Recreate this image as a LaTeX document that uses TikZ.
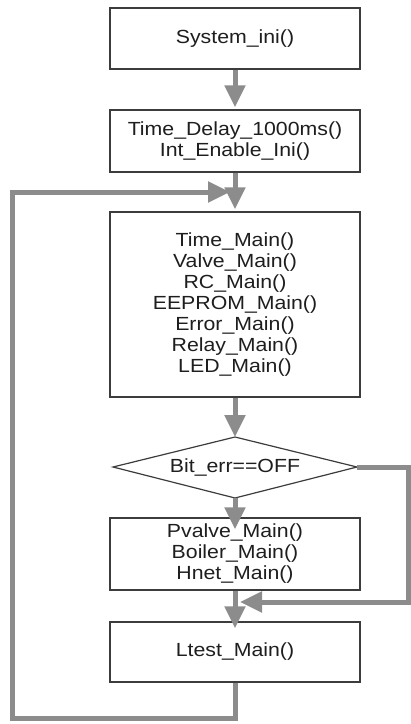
\documentclass[tikz,border=0pt]{standalone}
\usepackage{fontspec}
\setmainfont{Liberation Sans}[FakeStretch=1.12]
\usetikzlibrary{arrows.meta}
\definecolor{flow}{RGB}{140,140,140}
\definecolor{edgec}{RGB}{60,60,60}
\definecolor{txt}{RGB}{30,30,30}
\begin{document}
\begin{tikzpicture}[x=1pt,y=-1pt,
  box/.style={draw=edgec,line width=1.2pt,fill=white,minimum width=250pt,inner sep=0pt,align=center,text=txt,font=\fontsize{19}{21}\selectfont},
  label/.style={inner sep=0pt,text=txt,font=\fontsize{19}{21}\selectfont},
  flowline/.style={draw=flow,line width=5pt},
  flowarrow/.style={flowline,-{Triangle[width=20pt,length=22pt]}}]
\useasboundingbox (0,0) rectangle (411,724);
\node[box,minimum height=61pt] (b1) at (235,38.5) {System\_ini()};
\node[box,minimum height=62pt] (b2) at (235,141) {Time\_Delay\_1000ms()\\Int\_Enable\_Ini()};
\node[box,minimum height=185pt] (b3) at (235,304.5) {Time\_Main()\\Valve\_Main()\\RC\_Main()\\EEPROM\_Main()\\Error\_Main()\\Relay\_Main()\\LED\_Main()};
\coordinate (dL) at (113,467);
\coordinate (dT) at (235,437);
\coordinate (dR) at (357,467);
\coordinate (dB) at (235,498);
\draw[draw=edgec,line width=1.2pt,fill=white] (dL) -- (dT) -- (dR) -- (dB) -- cycle;
\node[label] (dia) at (235,467) {Bit\_err==OFF};
\node[box,minimum height=72pt] (b4) at (235,554) {Pvalve\_Main()\\Boiler\_Main()\\Hnet\_Main()};
\node[box,minimum height=60pt] (b5) at (235,652) {Ltest\_Main()};
% connectors
\draw[flowarrow,shorten >=2pt] (b1.south) -- (b2.north);
\draw[flowarrow,shorten >=2pt] (b2.south) -- (b3.north);
\draw[flowarrow] (b3.south) -- (dT);
\draw[flowarrow,shorten >=-12pt] (dB) -- (b4.north);
\draw[flowarrow,shorten >=-7pt] (b4.south) -- (b5.north);
\coordinate (rTop) at (408,467);
\coordinate (rBot) at (408,602);
\coordinate (mj) at (235,602);
\draw[flowarrow,shorten >=5pt] (dR) -- (rTop) -- (rBot) -- (mj);
\coordinate (lb) at (235,718);
\coordinate (ll) at (12,718);
\coordinate (lt) at (12,192);
\coordinate (lj) at (235,192);
\draw[flowarrow,shorten >=5pt] (b5.south) -- (lb) -- (ll) -- (lt) -- (lj);
\end{tikzpicture}
\end{document}
